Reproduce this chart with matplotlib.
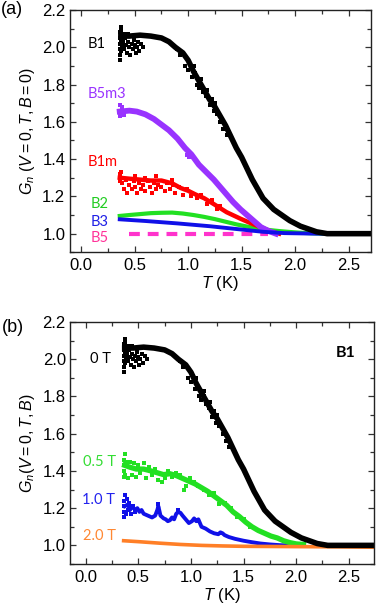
import matplotlib
matplotlib.use('Agg')
import matplotlib.pyplot as plt
from matplotlib.ticker import MultipleLocator, FormatStrFormatter

plt.rcParams['font.family'] = ['Liberation Sans', 'DejaVu Sans']
plt.rcParams['mathtext.fontset'] = 'custom'
plt.rcParams['mathtext.rm'] = 'Liberation Sans'
plt.rcParams['mathtext.it'] = 'Liberation Sans:italic'

# ---------------- data: panel (a) ----------------
b1_T = [0.37, 0.45, 0.55, 0.65, 0.75, 0.82, 0.88, 0.95, 1.00, 1.05, 1.10, 1.15, 1.20, 1.25,
        1.30, 1.35, 1.40, 1.45, 1.50, 1.55, 1.60, 1.65, 1.70, 1.75, 1.80, 1.85, 1.90, 1.95,
        2.00, 2.05, 2.10, 2.15, 2.20, 2.25, 2.30, 2.40, 2.55, 2.75]
b1_G = [2.06, 2.06, 2.065, 2.06, 2.05, 2.03, 2.00, 1.97, 1.93, 1.87, 1.82, 1.77, 1.72, 1.68,
        1.63, 1.58, 1.52, 1.46, 1.41, 1.35, 1.29, 1.24, 1.19, 1.16, 1.13, 1.11, 1.09, 1.07,
        1.055, 1.04, 1.03, 1.02, 1.01, 1.005, 1.0, 1.0, 1.0, 1.0]
b1_scT = [0.36, 0.36, 0.36, 0.36, 0.36, 0.36, 0.37, 0.37, 0.37, 0.37, 0.38, 0.39, 0.40, 0.41,
          0.42, 0.43, 0.44, 0.45, 0.46, 0.47, 0.48, 0.49, 0.50, 0.51, 0.52, 0.53, 0.54, 0.56,
          0.58, 0.40, 0.44, 0.97, 1.00, 1.02, 1.04, 1.06, 1.08, 1.10, 1.12, 1.14, 1.17, 1.20,
          1.22, 1.24, 1.27, 1.30, 1.33, 1.36, 1.05, 1.12, 1.18, 1.25, 0.92, 0.90]
b1_scG = [1.93, 1.96, 1.99, 2.02, 2.05, 2.08, 2.11, 2.09, 2.04, 1.98, 2.01, 2.03, 1.99, 2.05,
          2.01, 1.97, 2.03, 2.00, 1.96, 2.02, 1.99, 2.04, 2.01, 1.97, 2.00, 2.03, 1.98, 2.02,
          2.00, 2.07, 2.07, 1.90, 1.88, 1.91, 1.84, 1.86, 1.80, 1.78, 1.80, 1.76, 1.74, 1.69,
          1.72, 1.66, 1.64, 1.60, 1.56, 1.53, 1.90, 1.83, 1.77, 1.70, 1.96, 1.99]

b5m3_T = [0.36, 0.45, 0.52, 0.60, 0.68, 0.75, 0.82, 0.90, 0.97, 1.03, 1.10, 1.17, 1.24, 1.30,
          1.36, 1.42, 1.49, 1.55, 1.61, 1.68, 1.75, 1.82]
b5m3_G = [1.655, 1.66, 1.655, 1.64, 1.615, 1.585, 1.555, 1.51, 1.46, 1.425, 1.37, 1.33, 1.29,
          1.25, 1.21, 1.17, 1.13, 1.10, 1.07, 1.035, 1.015, 1.0]
b5m3_scT = [0.36, 0.36, 0.37, 0.38, 0.40, 0.99, 1.01]
b5m3_scG = [1.63, 1.69, 1.64, 1.68, 1.635, 1.42, 1.41]

b1m_T = [0.36, 0.45, 0.55, 0.65, 0.75, 0.85, 0.93, 1.00, 1.07, 1.15, 1.25, 1.36, 1.49, 1.61,
         1.70, 1.78, 1.85]
b1m_G = [1.30, 1.295, 1.29, 1.285, 1.285, 1.27, 1.245, 1.23, 1.21, 1.19, 1.155, 1.115, 1.08,
         1.05, 1.03, 1.01, 1.0]
b1m_scT = [0.36, 0.36, 0.37, 0.38, 0.40, 0.42, 0.43, 0.45, 0.47, 0.49, 0.50, 0.52, 0.54, 0.56,
           0.58, 0.60, 0.62, 0.64, 0.66, 0.68, 0.70, 0.72, 0.75, 0.78, 0.80, 0.83, 0.86, 0.88,
           0.91, 0.95, 0.99, 1.03, 1.08, 1.12, 1.18, 1.22, 1.27, 1.30, 0.50, 0.60, 0.70, 0.85]
b1m_scG = [1.32, 1.28, 1.33, 1.27, 1.24, 1.29, 1.22, 1.26, 1.24, 1.28, 1.25, 1.22, 1.27, 1.24,
           1.26, 1.23, 1.28, 1.25, 1.22, 1.27, 1.24, 1.26, 1.25, 1.23, 1.27, 1.24, 1.26, 1.22,
           1.25, 1.21, 1.24, 1.20, 1.19, 1.21, 1.16, 1.18, 1.13, 1.15, 1.31, 1.30, 1.31, 1.29]

b2_T = [0.36, 0.45, 0.55, 0.65, 0.75, 0.85, 0.95, 1.05, 1.15, 1.25, 1.35, 1.45, 1.55, 1.65,
        1.75, 1.85, 1.95, 2.05, 2.15, 2.25]
b2_G = [1.095, 1.10, 1.105, 1.11, 1.112, 1.113, 1.108, 1.10, 1.09, 1.078, 1.064, 1.05, 1.038,
        1.027, 1.02, 1.014, 1.009, 1.005, 1.002, 1.0]

b3_T = [0.36, 0.60, 0.90, 1.20, 1.50, 1.70, 1.90, 2.20, 2.72]
b3_G = [1.077, 1.068, 1.055, 1.04, 1.022, 1.01, 1.003, 1.0, 1.0]

b5_T = [0.45, 1.75]
b5_G = [1.0, 1.0]

# ---------------- data: panel (b) ----------------
f05_T = [0.37, 0.42, 0.48, 0.55, 0.62, 0.68, 0.74, 0.80, 0.86, 0.92, 0.98, 1.04, 1.10, 1.16,
         1.22, 1.28, 1.34, 1.40, 1.46, 1.52, 1.58, 1.64, 1.70, 1.76, 1.82, 1.88, 1.94, 2.00, 2.07]
f05_G = [1.43, 1.42, 1.41, 1.41, 1.40, 1.39, 1.38, 1.385, 1.375, 1.36, 1.345, 1.33, 1.31, 1.29,
         1.265, 1.24, 1.215, 1.18, 1.155, 1.125, 1.10, 1.08, 1.065, 1.05, 1.04, 1.025, 1.015,
         1.008, 1.005]
f05_scT = [0.36, 0.36, 0.36, 0.36, 0.37, 0.37, 0.38, 0.40, 0.42, 0.44, 0.46, 0.48, 0.50, 0.52,
           0.55, 0.57, 0.60, 0.63, 0.66, 0.69, 0.72, 0.75, 0.78, 0.82, 0.86, 0.90, 0.93, 0.95,
           0.99, 1.03, 1.07, 1.12, 1.17, 1.22, 1.27, 1.32, 1.38, 1.44, 1.50, 1.56]
f05_scG = [1.37, 1.40, 1.43, 1.46, 1.49, 1.38, 1.45, 1.36, 1.45, 1.38, 1.44, 1.37, 1.43, 1.39,
           1.44, 1.36, 1.42, 1.38, 1.41, 1.35, 1.34, 1.36, 1.40, 1.37, 1.39, 1.38, 1.30, 1.32,
           1.36, 1.34, 1.32, 1.30, 1.27, 1.28, 1.22, 1.23, 1.20, 1.15, 1.14, 1.10]

f10_T = [0.37, 0.40, 0.42, 0.44, 0.47, 0.49, 0.51, 0.53, 0.55, 0.57, 0.59, 0.61, 0.63, 0.66,
         0.68, 0.69, 0.71, 0.74, 0.76, 0.78, 0.80, 0.82, 0.84, 0.86, 0.88, 0.90, 0.92, 0.95,
         0.98, 1.01, 1.03, 1.05, 1.07, 1.10, 1.14, 1.18, 1.22, 1.26, 1.28, 1.30, 1.32, 1.36,
         1.42, 1.50, 1.58, 1.66, 1.75, 1.85, 1.95]
f10_G = [1.21, 1.22, 1.19, 1.21, 1.19, 1.20, 1.18, 1.19, 1.17, 1.165, 1.16, 1.155, 1.15, 1.16,
         1.19, 1.21, 1.16, 1.145, 1.14, 1.13, 1.135, 1.15, 1.14, 1.17, 1.18, 1.175, 1.16, 1.14,
         1.12, 1.13, 1.145, 1.13, 1.14, 1.10, 1.09, 1.075, 1.065, 1.06, 1.07, 1.065, 1.055,
         1.045, 1.035, 1.025, 1.017, 1.01, 1.005, 1.001, 1.0]
f10_scT = [0.36, 0.36, 0.36, 0.36, 0.37, 0.38, 0.39, 0.40, 0.41, 0.43, 0.45, 0.47, 0.69, 0.88]
f10_scG = [1.15, 1.18, 1.21, 1.24, 1.27, 1.17, 1.25, 1.19, 1.23, 1.17, 1.21, 1.18, 1.22, 1.19]

f20_T = [0.36, 0.50, 0.70, 0.90, 1.10, 1.30, 1.50, 1.80, 2.10, 2.40, 2.74]
f20_G = [1.025, 1.02, 1.012, 1.005, 1.0, 0.997, 0.995, 0.994, 0.993, 0.992, 0.99]

# ---------------- figure ----------------
W, H = 378, 612
fig = plt.figure(figsize=(W / 100, H / 100), dpi=100)
ax1 = fig.add_axes([69.5 / W, 1 - 252.3 / H, (371 - 69.5) / W, (252.3 - 10) / H])
ax2 = fig.add_axes([70 / W, 1 - 564 / H, (374 - 70) / W, (564 - 322) / H])

BLACK = '#000000'
PURPLE = '#9933FF'
RED = '#FF0000'
GREEN = '#22E022'
BLUE = '#1010E8'
MAGENTA = '#FF33CC'
ORANGE = '#FF7F27'

ms = 2.2

# panel a
ax1.plot(b5_T, b5_G, color=MAGENTA, lw=3.0, dashes=(2.6, 1.9), solid_capstyle='butt')
ax1.plot(b2_T, b2_G, color=GREEN, lw=3.0)
ax1.plot(b1m_T, b1m_G, color=RED, lw=3.2)
ax1.plot(b1m_scT, b1m_scG, 's', color=RED, ms=ms, mew=0)
ax1.plot(b5m3_T, b5m3_G, color=PURPLE, lw=4.2)
ax1.plot(b5m3_scT, b5m3_scG, 's', color=PURPLE, ms=ms, mew=0)
ax1.plot(b3_T, b3_G, color=BLUE, lw=2.8)
ax1.plot(b1_T, b1_G, color=BLACK, lw=4.0)
ax1.plot(b1_scT, b1_scG, 's', color=BLACK, ms=ms, mew=0)

# panel b
ax2.plot(f10_T, f10_G, color=BLUE, lw=2.8)
ax2.plot(f10_scT, f10_scG, 's', color=BLUE, ms=ms, mew=0)
ax2.plot(f05_T, f05_G, color=GREEN, lw=3.8)
ax2.plot(f05_scT, f05_scG, 's', color=GREEN, ms=ms, mew=0)
ax2.plot(f20_T, f20_G, color=ORANGE, lw=2.6)
ax2.plot(b1_T, b1_G, color=BLACK, lw=4.0)
ax2.plot(b1_scT, b1_scG, 's', color=BLACK, ms=ms, mew=0)

for ax, xl in ((ax1, (-0.11, 2.71)), (ax2, (-0.15, 2.74))):
    ax.set_xlim(*xl)
    ax.set_ylim(0.9, 2.2)
    ax.xaxis.set_major_locator(MultipleLocator(0.5))
    ax.xaxis.set_minor_locator(MultipleLocator(0.25))
    ax.yaxis.set_major_locator(MultipleLocator(0.2))
    ax.yaxis.set_minor_locator(MultipleLocator(0.1))
    ax.xaxis.set_major_formatter(FormatStrFormatter('%.1f'))
    ax.yaxis.set_major_formatter(FormatStrFormatter('%.1f'))
    ax.tick_params(which='both', direction='in', top=True, right=True, labelsize=12,
                   width=0.9, color='#333333')
    ax.tick_params(which='major', length=4)
    ax.tick_params(which='minor', length=2.6)
    ax.tick_params(axis='x', pad=4)
    ax.tick_params(axis='y', pad=3)
    for s in ax.spines.values():
        s.set_linewidth(1.0)
        s.set_color('#222222')
    ax.set_xlabel(r'$T$ (K)', fontsize=12, labelpad=1)

ax1.set_ylabel(r'$G_n\ (V = 0, T, B = 0)$', fontsize=11.5, labelpad=4)
ax2.set_ylabel(r'$G_n(V = 0, T, B)$', fontsize=11.5, labelpad=4)

lab = dict(family=['Lato', 'DejaVu Sans'], fontsize=10.5, va='center', ha='left')
ax1.text(0.06, 2.02, 'B1', color=BLACK, **lab)
ax1.text(0.056, 1.75, 'B5m3', color=PURPLE, **lab)
ax1.text(0.056, 1.385, 'B1m', color=RED, **lab)
ax1.text(0.087, 1.158, 'B2', color='#22CC22', **lab)
ax1.text(0.09, 1.063, 'B3', color='#1F1FE6', **lab)
ax1.text(0.087, 0.979, 'B5', color='#FF3399', **lab)

ax2.text(0.04, 2.0, '0 T', color=BLACK, **lab)
ax2.text(-0.023, 1.447, '0.5 T', color='#33DD33', **lab)
ax2.text(-0.04, 1.244, '1.0 T', color='#2222EE', **lab)
ax2.text(-0.023, 1.051, '2.0 T', color='#FF8833', **lab)
ax2.text(2.374, 2.032, 'B1', color=BLACK, family=['Lato', 'DejaVu Sans'], fontsize=11.5,
         fontweight='bold', va='center', ha='left')

fig.text(0.002, 1 - 10 / H, '(a)', fontsize=13, va='center', ha='left')
fig.text(0.004, 1 - 327 / H, '(b)', fontsize=13, va='center', ha='left')

fig.savefig('out.png', dpi=100)
